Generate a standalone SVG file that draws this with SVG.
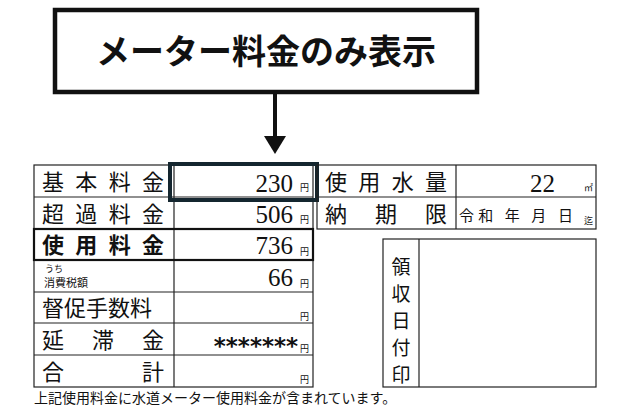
<svg xmlns="http://www.w3.org/2000/svg" width="618" height="412" viewBox="0 0 618 412">
<style>
.l{font-family:"Noto Sans CJK JP","Noto Sans",sans-serif;font-size:22px;fill:#111}
.s{font-family:"Noto Sans CJK JP",sans-serif;fill:#111}
.n{font-family:"Liberation Serif",serif;font-size:25px;fill:#111;text-anchor:end}
.y{font-family:"Noto Sans CJK JP",sans-serif;font-size:9px;fill:#111}
.g{fill:none;stroke:#222;stroke-width:1.2}
.v{font-family:"Noto Sans CJK JP",sans-serif;font-size:19px;fill:#111;text-anchor:middle}
</style>
<rect width="618" height="412" fill="#fff"/>
<g id="title">
<rect x="55" y="10" width="422" height="82" fill="#fff" stroke="#111" stroke-width="4.5"/>
<text x="266" y="64" text-anchor="middle" font-family="Noto Sans CJK JP,sans-serif" font-size="34" font-weight="bold" fill="#111">メーター料金のみ表示</text>
</g>
<g id="connectors">
<line x1="275" y1="92" x2="275" y2="138" stroke="#111" stroke-width="4"/>
<polygon points="264,136 286,136 275,154" fill="#111"/>
</g>
<g id="left-table">
<rect class="g" x="34" y="165" width="279" height="222"/>
<line class="g" x1="174" y1="165" x2="174" y2="387"/>
<line class="g" x1="34" y1="197" x2="313" y2="197"/>
<line class="g" x1="34" y1="229" x2="313" y2="229"/>
<line class="g" x1="34" y1="260" x2="313" y2="260"/>
<line class="g" x1="34" y1="292" x2="313" y2="292"/>
<line class="g" x1="34" y1="323" x2="313" y2="323"/>
<line class="g" x1="34" y1="355" x2="313" y2="355"/>
<rect x="34" y="229" width="279" height="31" fill="none" stroke="#111" stroke-width="2.2"/>
<text class="l" x="42" y="190" textLength="122" lengthAdjust="spacing">基本料金</text>
<text class="l" x="42" y="222" textLength="122" lengthAdjust="spacing">超過料金</text>
<text class="l" x="42" y="253" textLength="122" lengthAdjust="spacing" font-weight="bold">使用料金</text>
<text class="s" x="45" y="272" font-size="9">うち</text>
<text class="s" x="44" y="287" font-size="11">消費税額</text>
<text class="l" x="42" y="316">督促手数料</text>
<text class="l" x="42" y="348" textLength="122" lengthAdjust="spacing">延　滞　金</text>
<text class="l" x="42" y="380" textLength="122" lengthAdjust="spacing">合　　　計</text>
<text class="n" x="293" y="192">230</text>
<text class="n" x="293" y="223">506</text>
<text class="n" x="293" y="254">736</text>
<text class="n" x="293" y="286">66</text>
<text x="298" y="354" text-anchor="end" font-family="DejaVu Sans,sans-serif" font-size="23" font-weight="bold" fill="#111">*******</text>
<text class="y" x="300" y="191">円</text>
<text class="y" x="300" y="223">円</text>
<text class="y" x="300" y="255">円</text>
<text class="y" x="300" y="287">円</text>
<text class="y" x="300" y="320">円</text>
<text class="y" x="300" y="352">円</text>
<text class="y" x="300" y="383">円</text>
<rect id="highlight" x="170" y="164" width="147" height="36" fill="none" stroke="#14262f" stroke-width="4"/>
</g>
<g id="right-table">
<rect class="g" x="317" y="165" width="279" height="64"/>
<line class="g" x1="456" y1="165" x2="456" y2="229"/>
<line class="g" x1="317" y1="197" x2="596" y2="197"/>
<text class="l" x="325" y="190" textLength="122" lengthAdjust="spacing">使用水量</text>
<text class="l" x="325" y="222" textLength="122" lengthAdjust="spacing">納　期　限</text>
<text class="n" x="555" y="192">22</text>
<text class="y" x="584" y="191">㎡</text>
<text class="s" x="459" y="221" font-size="15" textLength="114" lengthAdjust="spacing">令和 年 月 日</text>
<text class="y" x="584" y="224">迄</text>
</g>
<g id="stamp">
<rect class="g" x="383" y="239" width="213" height="148"/>
<line class="g" x1="419" y1="239" x2="419" y2="387"/>
<text class="v" x="401" y="274">領</text>
<text class="v" x="401" y="301">収</text>
<text class="v" x="401" y="328">日</text>
<text class="v" x="401" y="355">付</text>
<text class="v" x="401" y="382">印</text>
</g>
<text class="s" x="34" y="403" font-size="14">上記使用料金に水道メーター使用料金が含まれています。</text>
</svg>
